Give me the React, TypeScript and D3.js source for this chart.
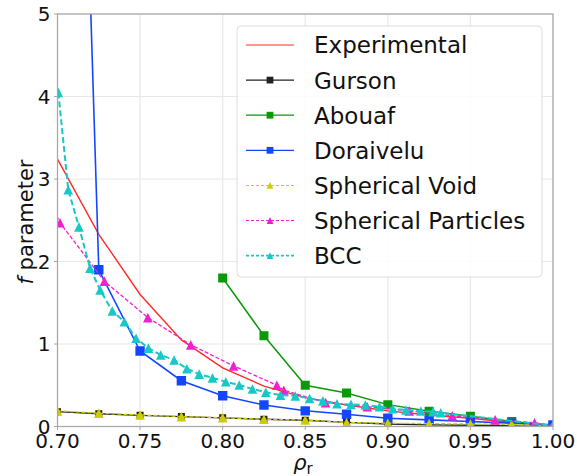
import React from 'react';
import * as d3 from 'd3';

const W = 577;
const H = 476;

const xTicks = [0.7, 0.75, 0.8, 0.85, 0.9, 0.95, 1.0];
const xTickLabels = ['0.70', '0.75', '0.80', '0.85', '0.90', '0.95', '1.00'];
const yTicks = [0, 1, 2, 3, 4, 5];

const experimentalX = [0.7, 0.725, 0.75, 0.775, 0.8, 0.825, 0.85, 0.875, 0.9, 0.925, 0.95, 0.975, 1.0];
const experimentalY = [3.24, 2.33, 1.6, 1.05, 0.71, 0.49, 0.35, 0.26, 0.19, 0.14, 0.1, 0.05, 0.0];

const gursonX = [0.7, 0.725, 0.75, 0.775, 0.8, 0.825, 0.85, 0.875, 0.9, 0.925, 0.95, 0.975, 1.0];
const gursonY = [0.18, 0.155, 0.135, 0.12, 0.105, 0.087, 0.075, 0.05, 0.03, 0.02, 0.015, 0.008, 0.0];

const abouafX = [0.8, 0.825, 0.85, 0.875, 0.9, 0.925, 0.95, 0.975, 1.0];
const abouafY = [1.8, 1.1, 0.5, 0.405, 0.265, 0.185, 0.125, 0.06, 0.01];

const doraiveluX = [0.7, 0.725, 0.75, 0.775, 0.8, 0.825, 0.85, 0.875, 0.9, 0.925, 0.95, 0.975, 1.0];
const doraiveluY = [18, 1.9, 0.915, 0.555, 0.373, 0.26, 0.19, 0.148, 0.1, 0.08, 0.06, 0.04, 0.02];

const sphericalVoidX = [0.7, 0.725, 0.75, 0.775, 0.8, 0.825, 0.85, 0.875, 0.9, 0.925, 0.95, 0.975, 1.0];
const sphericalVoidY = [0.19, 0.16, 0.14, 0.12, 0.107, 0.087, 0.079, 0.048, 0.04, 0.035, 0.03, 0.025, 0.01];

const sphericalParticlesX = [0.695, 0.7015, 0.7284, 0.7547, 0.7807, 0.8066, 0.8328, 0.837, 0.8623, 0.8875, 0.913, 0.939, 0.965, 0.9888, 1.0];
const sphericalParticlesY = [2.75, 2.47, 1.76, 1.32, 0.99, 0.735, 0.5, 0.44, 0.29, 0.24, 0.19, 0.13, 0.08, 0.045, 0.01];

const bccX = [0.7005, 0.7065, 0.713, 0.7197, 0.7258, 0.7332, 0.7405, 0.7476, 0.755, 0.7625, 0.7706, 0.7783, 0.7858, 0.7938, 0.8019, 0.81, 0.818, 0.8261, 0.835, 0.844, 0.8526, 0.8607, 0.8692, 0.8777, 0.8864, 0.895, 0.903, 0.911, 0.92, 0.9274, 0.932, 1.0];
const bccY = [4.05, 2.87, 2.42, 1.92, 1.655, 1.4, 1.27, 1.07, 0.95, 0.867, 0.806, 0.7, 0.635, 0.59, 0.543, 0.503, 0.455, 0.415, 0.38, 0.37, 0.34, 0.31, 0.275, 0.268, 0.26, 0.24, 0.216, 0.2, 0.188, 0.18, 0.167, 0.01];

type Marker = 'none' | 'square' | 'triangle';
interface Series {
  name: string;
  xs: number[];
  ys: number[];
  color: string;
  width: number;
  dash?: string;
  marker: Marker;
  size: number;
}

const series: Series[] = [
  { name: 'Experimental', xs: experimentalX, ys: experimentalY, color: '#ff2a2a', width: 1.4, marker: 'none', size: 0 },
  { name: 'Gurson', xs: gursonX, ys: gursonY, color: '#222222', width: 1.4, marker: 'square', size: 3.5 },
  { name: 'Abouaf', xs: abouafX, ys: abouafY, color: '#0a990a', width: 1.5, marker: 'square', size: 4.5 },
  { name: 'Doraivelu', xs: doraiveluX, ys: doraiveluY, color: '#1446ff', width: 1.6, marker: 'square', size: 4.7 },
  { name: 'Spherical Void', xs: sphericalVoidX, ys: sphericalVoidY, color: '#cccc00', width: 1.3, dash: '4,2', marker: 'triangle', size: 4.8 },
  { name: 'Spherical Particles', xs: sphericalParticlesX, ys: sphericalParticlesY, color: '#f020d0', width: 1.3, dash: '4,2', marker: 'triangle', size: 4.8 },
  { name: 'BCC', xs: bccX, ys: bccY, color: '#18c8c8', width: 2, dash: '6,3', marker: 'triangle', size: 4.8 },
];

function markerPath(m: Marker, s: number): string {
  if (m === 'square') return `M${-s},${-s}H${s}V${s}H${-s}Z`;
  if (m === 'triangle') return `M0,${-s}L${s},${s}L${-s},${s}Z`;
  return '';
}

export default function App() {
  const left = 57.5, right = 553, top = 14, bottom = 426.5;
  const x = d3.scaleLinear().domain([0.7, 1.0]).range([left, right]);
  const y = d3.scaleLinear().domain([0, 5]).range([bottom, top]);
  const font = 'DejaVu Sans, sans-serif';

  const legX = 237, legY = 26, legW = 305, legH = 251;
  const rowY0 = 45, rowStep = 35.1;

  return (
    <svg width={W} height={H} style={{ position: 'absolute', left: 0, top: 0 }} fontFamily={font}>
      <defs>
        <clipPath id="plotClip">
          <rect x={left} y={top} width={right - left} height={bottom - top} />
        </clipPath>
      </defs>
      <rect x={0} y={0} width={W} height={H} fill="#fff" />
      {xTicks.map((t, i) => (
        <line key={'gx' + i} x1={x(t)} x2={x(t)} y1={top} y2={bottom} stroke="#e8e8e8" strokeWidth={1.2} />
      ))}
      {yTicks.map((t, i) => (
        <line key={'gy' + i} x1={left} x2={right} y1={y(t)} y2={y(t)} stroke="#e8e8e8" strokeWidth={1.2} />
      ))}
      <g clipPath="url(#plotClip)">
        {series.map((s) => {
          const pts: [number, number][] = s.xs.map((v, i) => [x(v), y(s.ys[i])]);
          const line = d3.line<[number, number]>().x((d) => d[0]).y((d) => d[1]);
          return (
            <g key={s.name}>
              <path d={line(pts) || ''} fill="none" stroke={s.color} strokeWidth={s.width} strokeDasharray={s.dash} />
              {s.marker !== 'none' &&
                pts.map((p, i) => (
                  <path key={i} d={markerPath(s.marker, s.size)} transform={`translate(${p[0]},${p[1]})`} fill={s.color} />
                ))}
            </g>
          );
        })}
      </g>
      <rect x={left} y={top} width={right - left} height={bottom - top} fill="none" stroke="#a6a6a6" strokeWidth={1.2} />
      {xTicks.map((t, i) => (
        <g key={'xt' + i}>
          <line x1={x(t)} x2={x(t)} y1={bottom} y2={bottom + 3.5} stroke="#a6a6a6" />
          <text x={x(t)} y={448} textAnchor="middle" fontSize={20} fill="#111">{xTickLabels[i]}</text>
        </g>
      ))}
      {yTicks.map((t, i) => (
        <g key={'yt' + i}>
          <line x1={left - 3.5} x2={left} y1={y(t)} y2={y(t)} stroke="#a6a6a6" />
          <text x={50.5} y={y(t) + 7.3} textAnchor="end" fontSize={20} fill="#111">{t}</text>
        </g>
      ))}
      <text transform="translate(33,222) rotate(-90)" textAnchor="middle" fontSize={21} fill="#111">
        <tspan fontStyle="italic">f</tspan> parameter
      </text>
      <text x={303} y={469.5} textAnchor="middle" fontSize={21} fill="#111">
        <tspan fontStyle="italic">ρ</tspan>
        <tspan fontSize={15} dy={4}>r</tspan>
      </text>
      <rect x={legX} y={legY} width={legW} height={legH} rx={4} ry={4} fill="#fff" fillOpacity={0.85} stroke="#dcdcdc" strokeWidth={1} />
      {series.map((s, i) => {
        const cy = rowY0 + i * rowStep;
        return (
          <g key={'leg' + s.name}>
            <line x1={246} x2={294} y1={cy} y2={cy} stroke={s.color} strokeWidth={s.width * 0.8} strokeDasharray={s.dash ? '3,2' : undefined} />
            {s.marker !== 'none' && (
              <path d={markerPath(s.marker, 3.4)} transform={`translate(270,${cy})`} fill={s.color} />
            )}
            <text x={314} y={cy + 8.4} fontSize={23} fill="#111">{s.name}</text>
          </g>
        );
      })}
    </svg>
  );
}
